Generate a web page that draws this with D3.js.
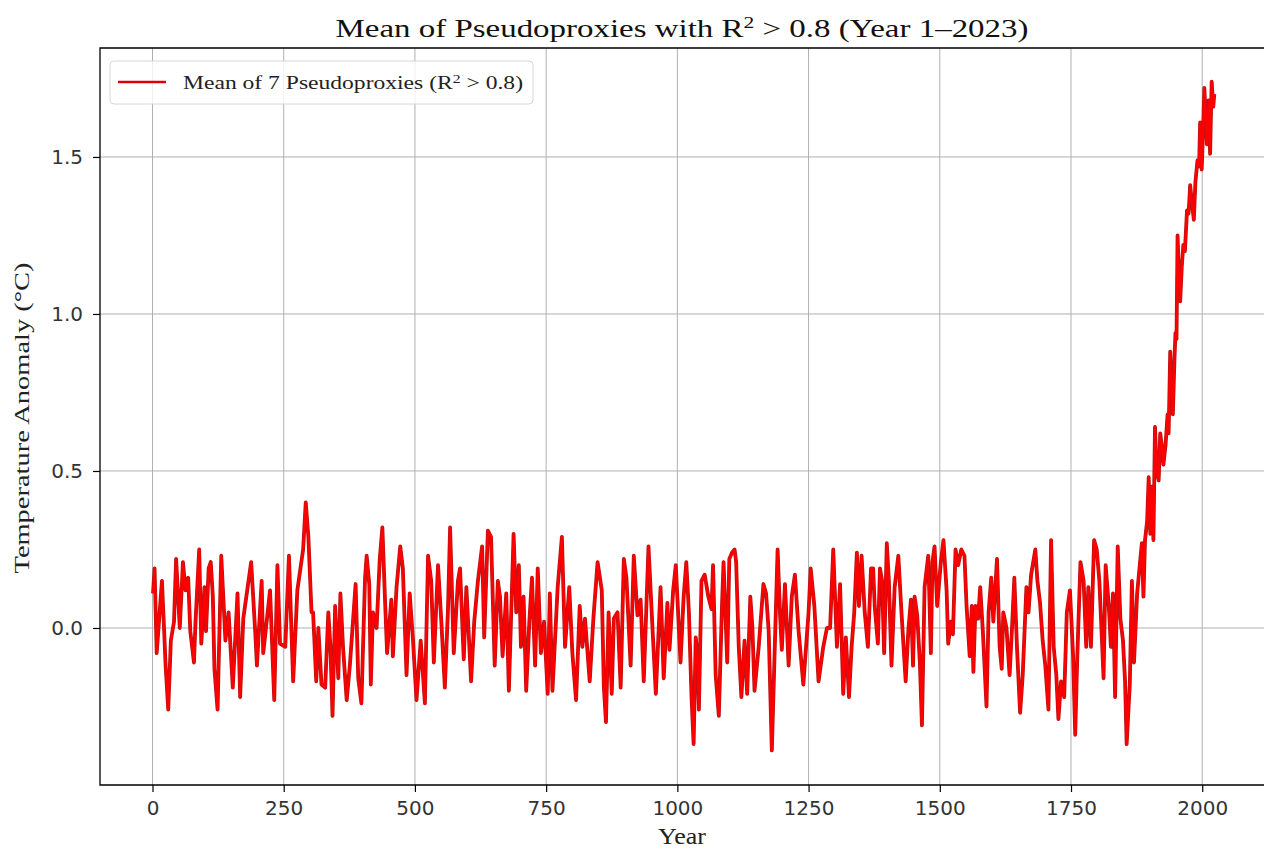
<!DOCTYPE html>
<html>
<head>
<meta charset="utf-8">
<script src="https://cdn.jsdelivr.net/npm/d3@7"></script>
<style>
  body { margin: 0; background: #fff; }
</style>
</head>
<body>
<svg id="chart"></svg>
<script>
// Data (year, mean anomaly in °C)
const years = [
  1, 4, 8, 18, 22, 25, 30, 35, 41, 45, 52, 58, 63, 68, 72, 79, 82, 89, 93, 99,
  102, 107, 111, 115, 118, 124, 131, 139, 145, 153, 162, 167, 173, 188, 196, 199, 208, 211, 224, 232,
  238, 243, 253, 260, 268, 276, 287, 292, 297, 303, 306, 312, 316, 322, 329, 335, 339, 343, 348, 354,
  358, 363, 370, 376, 387, 392, 398, 405, 408, 413, 416, 420, 427, 433, 438, 443, 447, 455, 458, 465,
  472, 477, 484, 490, 496, 503, 511, 519, 525, 531, 536, 544, 550, 557, 563, 567, 574, 582, 586, 593,
  598, 607, 613, 620, 628, 632, 639, 645, 652, 658, 662, 667, 674, 679, 688, 693, 698, 702, 707, 712,
  718, 723, 729, 734, 740, 746, 753, 757, 762, 772, 780, 786, 794, 800, 807, 814, 819, 824, 833, 840,
  848, 856, 860, 864, 869, 875, 879, 886, 892, 898, 903, 911, 917, 924, 930, 936, 945, 952, 959, 968,
  974, 981, 985, 992, 997, 1002, 1006, 1012, 1017, 1022, 1027, 1031, 1035, 1038, 1041, 1046, 1052, 1059, 1065, 1068,
  1073, 1079, 1085, 1088, 1095, 1099, 1104, 1109, 1112, 1117, 1122, 1128, 1133, 1139, 1143, 1147, 1155, 1164, 1169, 1174,
  1180, 1186, 1191, 1196, 1199, 1205, 1212, 1218, 1224, 1231, 1240, 1250, 1254, 1261, 1269, 1278, 1285, 1291, 1297, 1304,
  1310, 1316, 1321, 1327, 1332, 1337, 1342, 1346, 1351, 1357, 1363, 1369, 1373, 1376, 1382, 1386, 1390, 1394, 1399, 1403,
  1408, 1414, 1421, 1427, 1435, 1440, 1445, 1449, 1452, 1457, 1462, 1466, 1471, 1478, 1483, 1486, 1490, 1495, 1502, 1507,
  1513, 1516, 1521, 1525, 1530, 1535, 1541, 1547, 1551, 1557, 1561, 1564, 1568, 1573, 1577, 1582, 1589, 1593, 1598, 1602,
  1609, 1614, 1618, 1621, 1627, 1633, 1637, 1642, 1647, 1653, 1658, 1665, 1669, 1674, 1682, 1686, 1691, 1696, 1701, 1707,
  1712, 1717, 1722, 1726, 1731, 1737, 1742, 1748, 1754, 1758, 1762, 1768, 1774, 1779, 1783, 1788, 1794, 1799, 1804, 1809,
  1812, 1816, 1822, 1826, 1830, 1834, 1839, 1844, 1849, 1853, 1856, 1862, 1866, 1870, 1876, 1881, 1885, 1888, 1891, 1895,
  1898, 1901, 1904, 1907, 1910, 1913, 1917, 1920, 1923, 1926, 1930, 1934, 1936, 1939, 1942, 1944, 1947, 1949, 1951, 1953,
  1956, 1958, 1961, 1964, 1967, 1971, 1974, 1977, 1980, 1984, 1987, 1991, 1994, 1996, 1999, 2002, 2004, 2007, 2009, 2012,
  2015, 2018, 2021, 2023
];
const anomaly = [
  0.11, 0.19, -0.08, 0.15, 0.00, -0.12, -0.26, -0.04, 0.02, 0.22, 0.00, 0.21, 0.12, 0.16, -0.01, -0.11, 0.02, 0.25, -0.05, 0.13,
  -0.01, 0.19, 0.21, 0.10, -0.13, -0.26, 0.23, -0.04, 0.05, -0.19, 0.11, -0.22, 0.03, 0.21, -0.02, -0.12, 0.15, -0.08, 0.12, -0.23,
  0.20, -0.05, -0.06, 0.23, -0.17, 0.12, 0.25, 0.40, 0.29, 0.05, 0.05, -0.17, 0.00, -0.18, -0.19, 0.05, -0.06, -0.28, 0.07, -0.16,
  0.11, -0.06, -0.23, -0.12, 0.14, -0.16, -0.24, 0.16, 0.23, 0.14, -0.18, 0.05, 0.00, 0.22, 0.32, 0.09, -0.08, 0.09, -0.09, 0.13,
  0.26, 0.19, -0.15, 0.11, -0.03, -0.23, -0.04, -0.24, 0.23, 0.15, -0.11, 0.20, 0.03, -0.19, 0.06, 0.32, -0.08, 0.15, 0.19, -0.10,
  0.13, -0.17, 0.02, 0.15, 0.26, -0.03, 0.31, 0.29, -0.12, 0.15, 0.10, -0.09, 0.11, -0.20, 0.30, 0.05, 0.20, -0.06, 0.10, -0.20,
  0.02, 0.16, -0.12, 0.19, -0.08, 0.02, -0.21, 0.11, -0.20, 0.13, 0.29, -0.06, 0.13, -0.08, -0.23, 0.07, -0.06, 0.03, -0.17, 0.03,
  0.21, 0.12, -0.19, -0.30, 0.05, -0.21, 0.03, 0.05, -0.19, 0.22, 0.16, -0.12, 0.23, 0.04, 0.09, -0.17, 0.26, 0.02, -0.21, 0.13,
  -0.16, 0.08, -0.07, 0.12, 0.20, 0.03, -0.11, 0.10, 0.21, 0.05, -0.22, -0.37, -0.03, -0.08, -0.26, 0.15, 0.17, 0.10, 0.06, 0.20,
  -0.15, -0.28, 0.07, 0.21, -0.11, 0.22, 0.24, 0.25, 0.21, -0.06, -0.22, -0.04, -0.21, 0.10, 0.00, -0.20, -0.06, 0.14, 0.11, -0.01,
  -0.39, -0.04, 0.25, 0.03, -0.07, 0.14, -0.12, 0.10, 0.17, -0.01, -0.18, 0.05, 0.19, 0.07, -0.17, -0.06, 0.00, 0.00, 0.25, -0.06,
  0.14, -0.21, -0.03, -0.22, -0.06, 0.05, 0.24, 0.07, 0.23, 0.05, -0.06, 0.19, 0.19, 0.07, -0.05, 0.19, 0.15, -0.08, 0.27, 0.15,
  -0.12, 0.13, 0.23, 0.05, -0.17, -0.01, 0.09, -0.12, 0.10, 0.04, -0.11, -0.31, 0.13, 0.23, -0.08, 0.21, 0.26, 0.07, 0.21, 0.28,
  0.12, -0.05, 0.02, -0.02, 0.25, 0.20, 0.25, 0.23, 0.07, -0.09, 0.07, -0.14, 0.07, 0.03, 0.13, -0.01, -0.25, 0.05, 0.16, 0.02,
  0.22, -0.06, -0.13, 0.05, 0.00, -0.15, -0.02, 0.16, -0.06, -0.27, -0.15, 0.13, 0.05, 0.17, 0.25, 0.15, 0.08, -0.04, -0.12, -0.26,
  0.28, -0.06, -0.15, -0.29, -0.17, -0.22, 0.05, 0.12, -0.09, -0.34, -0.09, 0.21, 0.15, -0.06, 0.13, -0.06, 0.28, 0.25, 0.15, -0.04,
  -0.16, 0.20, 0.07, -0.06, 0.11, -0.22, 0.26, 0.03, -0.04, -0.17, -0.37, -0.18, 0.15, -0.11, 0.11, 0.20, 0.27, 0.10, 0.28, 0.34,
  0.48, 0.30, 0.45, 0.28, 0.64, 0.50, 0.47, 0.62, 0.58, 0.52, 0.58, 0.68, 0.62, 0.88, 0.75, 0.68, 0.85, 0.94, 0.92, 1.25,
  1.10, 1.04, 1.15, 1.22, 1.20, 1.33, 1.32, 1.41, 1.36, 1.30, 1.42, 1.49, 1.47, 1.61, 1.46, 1.60, 1.72, 1.62, 1.54, 1.68,
  1.51, 1.74, 1.66, 1.70
];
const xTicks = [0, 250, 500, 750, 1000, 1250, 1500, 1750, 2000];
const yTicks = [0.0, 0.5, 1.0, 1.5];

// Page size and plot box (right spine sits just past the picture edge)
const width = 1264;
const height = 850;
const plot = { left: 100, top: 48, right: 1267, bottom: 785 };

const svg = d3.select("#chart").attr("width", width).attr("height", height);

// Scales
const xScale = d3.scaleLinear().domain([-100, 2123.4]).range([plot.left, plot.right]);
const yScale = d3.scaleLinear().domain([-0.5, 1.847]).range([plot.bottom, plot.top]);

// Grid lines
const grid = svg.append("g").attr("stroke", "#b0b0b0").attr("stroke-width", 1);
grid.selectAll("line.vx")
  .data(xTicks)
  .enter()
  .append("line")
  .attr("x1", (d) => xScale(d))
  .attr("x2", (d) => xScale(d))
  .attr("y1", plot.top)
  .attr("y2", plot.bottom);
grid.selectAll("line.hy")
  .data(yTicks)
  .enter()
  .append("line")
  .attr("x1", plot.left)
  .attr("x2", plot.right)
  .attr("y1", (d) => yScale(d))
  .attr("y2", (d) => yScale(d));

// The series: a dark red edge under a bright red core, like the reference
const points = years.map((y, i) => ({ year: y, value: anomaly[i] }));
const line = d3.line().x((d) => xScale(d.year)).y((d) => yScale(d.value));
svg.append("path")
  .datum(points)
  .attr("d", line)
  .attr("fill", "none")
  .attr("stroke", "#b81414")
  .attr("stroke-width", 3.8)
  .attr("stroke-linejoin", "round");
svg.append("path")
  .datum(points)
  .attr("d", line)
  .attr("fill", "none")
  .attr("stroke", "#ff0000")
  .attr("stroke-width", 2.4)
  .attr("stroke-linejoin", "round");

// Axes
const xAxis = svg.append("g")
  .attr("transform", `translate(0,${plot.bottom})`)
  .call(d3.axisBottom(xScale).tickValues(xTicks).tickSize(7).tickPadding(9).tickFormat(d3.format("d")));
const yAxis = svg.append("g")
  .attr("transform", `translate(${plot.left},0)`)
  .call(d3.axisLeft(yScale).tickValues(yTicks).tickSize(7).tickPadding(10).tickFormat(d3.format(".1f")));

[xAxis, yAxis].forEach((ax) => {
  ax.select(".domain").remove();
  ax.selectAll("line").attr("stroke", "#000").attr("stroke-width", 1.2);
  ax.selectAll("text")
    .attr("fill", "#333")
    .style("font-family", "DejaVu Sans, sans-serif")
    .style("font-size", "20px");
});

// Spines (left, top, bottom)
svg.append("path")
  .attr("d", `M${plot.right},${plot.top}H${plot.left}V${plot.bottom}H${plot.right}`)
  .attr("fill", "none")
  .attr("stroke", "#000")
  .attr("stroke-width", 1.3);

// Title
svg.append("text")
  .attr("x", 682)
  .attr("y", 37)
  .attr("text-anchor", "middle")
  .attr("textLength", 693)
  .attr("lengthAdjust", "spacingAndGlyphs")
  .style("font-family", "Liberation Serif, serif")
  .style("font-size", "26px")
  .attr("fill", "#111")
  .html('Mean of Pseudoproxies with R<tspan dy="-9" font-size="17px">2</tspan><tspan dy="9"> &gt; 0.8 (Year 1–2023)</tspan>');

// Axis labels
svg.append("text")
  .attr("x", 682)
  .attr("y", 844)
  .attr("text-anchor", "middle")
  .attr("textLength", 48)
  .attr("lengthAdjust", "spacingAndGlyphs")
  .style("font-family", "Liberation Serif, serif")
  .style("font-size", "24px")
  .attr("fill", "#222")
  .text("Year");

svg.append("text")
  .attr("transform", "translate(29,418) rotate(-90)")
  .attr("text-anchor", "middle")
  .attr("textLength", 311)
  .attr("lengthAdjust", "spacingAndGlyphs")
  .style("font-family", "Liberation Serif, serif")
  .style("font-size", "22px")
  .attr("fill", "#222")
  .text("Temperature Anomaly (°C)");

// Legend
const legend = svg.append("g");
legend.append("rect")
  .attr("x", 110)
  .attr("y", 61)
  .attr("width", 423)
  .attr("height", 43)
  .attr("rx", 4)
  .attr("fill", "#fff")
  .attr("fill-opacity", 0.8)
  .attr("stroke", "#d6d6d6");
legend.append("line")
  .attr("x1", 118)
  .attr("x2", 166)
  .attr("y1", 82)
  .attr("y2", 82)
  .attr("stroke", "#e00000")
  .attr("stroke-width", 2.6);
legend.append("text")
  .attr("x", 183)
  .attr("y", 89)
  .attr("textLength", 340)
  .attr("lengthAdjust", "spacingAndGlyphs")
  .style("font-family", "Liberation Serif, serif")
  .style("font-size", "18px")
  .attr("fill", "#222")
  .html('Mean of 7 Pseudoproxies (R<tspan dy="-6" font-size="12px">2</tspan><tspan dy="6"> &gt; 0.8)</tspan>');
</script>
</body>
</html>
